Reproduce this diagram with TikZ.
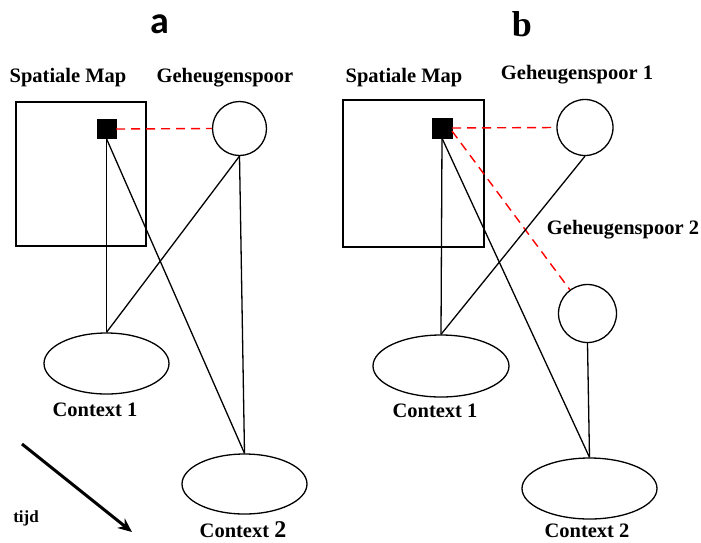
\documentclass[tikz,border=0pt]{standalone}
\usepackage{fontspec}
\setmainfont{Liberation Serif}
\newfontfamily\labfont{Carlito}
\usetikzlibrary{shapes.geometric,arrows.meta}
\begin{document}
\begin{tikzpicture}[x=1pt,y=-1pt,
  lbl/.style={inner sep=0pt,font=\fontsize{20.5}{22}\selectfont\bfseries},
  mapbox/.style={draw,line width=1.4pt,inner sep=0pt},
  spot/.style={fill=black,draw=black,inner sep=0pt,minimum size=19pt},
  trace/.style={draw,circle,line width=1.3pt,inner sep=0pt},
  ctx/.style={draw,ellipse,line width=1.3pt,inner sep=0pt},
  link/.style={line width=1.3pt},
  redlink/.style={red,line width=1.4pt,dash pattern=on 9pt off 6pt}]
\useasboundingbox (0,0) rectangle (701,542);
% ---------- panel a ----------
\node[inner sep=0pt,font=\labfont\fontsize{38}{40}\selectfont\bfseries] (la) at (160,24) {a};
\node[lbl] (tma) at (68,78) {Spatiale Map};
\node[lbl] (tga) at (225,78) {Geheugenspoor};
\node[mapbox,minimum width=130pt,minimum height=144pt] (boxa) at (81,174) {};
\node[spot] (sqa) at (106.5,129) {};
\node[trace,minimum size=54pt] (ca) at (239.5,128.5) {};
\node[ctx,minimum width=125pt,minimum height=61pt] (c1a) at (106.5,363.5) {};
\node[ctx,minimum width=125pt,minimum height=60pt] (c2a) at (244.5,484) {};
\node[lbl] (tc1a) at (95,410) {Context 1};
\node[lbl] (tc2a) at (243,530) {Context {\fontsize{24}{24}\selectfont 2}};
\node[inner sep=0pt,font=\fontsize{17}{18}\selectfont\bfseries] (tijd) at (26,518) {tijd};
\coordinate (ta0) at (22,444);
\coordinate (ta1) at (132,532);
\draw[line width=3pt,-{Stealth[length=14pt,width=12pt]}] (ta0) -- (ta1);
\draw[redlink] (sqa.east) -- (ca.west);
\draw[link] (sqa.south) -- (c1a.north);
\draw[link] (sqa.south) -- (c2a.north);
\draw[link] (ca.south) -- (c1a.north);
\draw[link] (ca.south) -- (c2a.north);
% ---------- panel b ----------
\node[inner sep=0pt,font=\fontsize{36}{38}\selectfont\bfseries] (lb) at (522,24) {b};
\node[lbl] (tmb) at (404,78) {Spatiale Map};
\node[lbl] (tg1) at (577,75) {Geheugenspoor 1};
\node[lbl] (tg2) at (623,230) {Geheugenspoor 2};
\node[mapbox,minimum width=141pt,minimum height=147pt] (boxb) at (413.5,173.5) {};
\node[spot,minimum size=20pt] (sqb) at (442,128) {};
\node[trace,minimum size=56pt] (c1b) at (585,127.5) {};
\node[trace,minimum size=58pt] (c2b) at (587.5,313.5) {};
\node[ctx,minimum width=136pt,minimum height=62pt] (k1b) at (441,366) {};
\node[ctx,minimum width=135pt,minimum height=61pt] (k2b) at (589.5,488.5) {};
\node[lbl] (tk1b) at (435,411) {Context 1};
\node[lbl] (tk2b) at (587,531) {Context 2};
\coordinate (sqbx) at (452,131);
\draw[redlink] (sqb.east) -- (c1b.west);
\draw[redlink] (sqbx) -- (c2b);
\draw[link] (sqb.south) -- (k1b.north);
\draw[link] (sqb.south) -- (k2b.north);
\draw[link] (c1b.south) -- (k1b.north);
\draw[link] (c2b.south) -- (k2b.north);
\end{tikzpicture}
\end{document}
